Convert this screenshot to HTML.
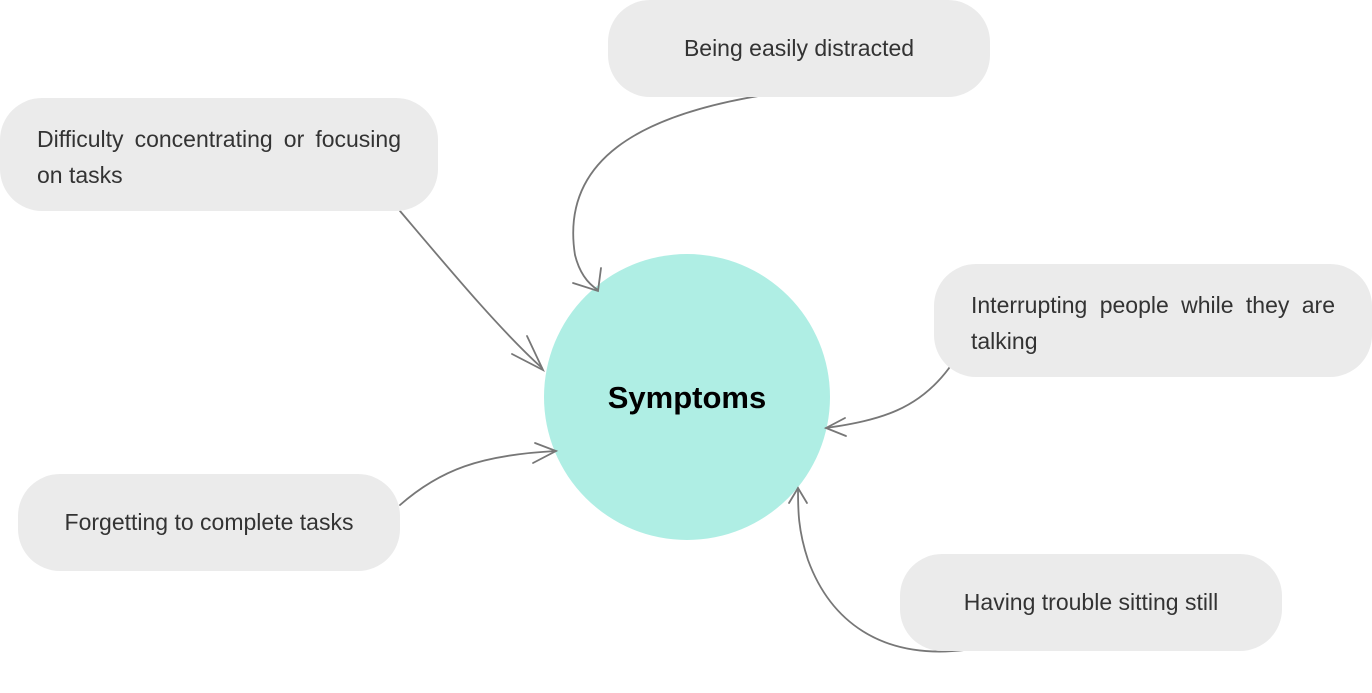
<!DOCTYPE html>
<html><head><meta charset="utf-8"><style>
body{margin:0;width:1372px;height:693px;background:#fff;position:relative;overflow:hidden;font-family:"Liberation Sans",sans-serif;}
.b{position:absolute;background:#ebebeb;border-radius:42px;color:#333;font-size:23px;box-sizing:border-box;}
.c{display:flex;align-items:center;justify-content:center;}
.j{text-align:justify;text-align-last:left;line-height:36px;padding:23px 37px 0 37px;}
svg{position:absolute;left:0;top:0;}
</style></head><body>
<svg width="1372" height="693">
<circle cx="687" cy="397" r="143" fill="#afeee4"/>
<g fill="none" stroke="#777" stroke-width="1.8" stroke-linecap="round">
<path d="M764 95 C640 115 560 160 575 255 C580 275 590 285 598 290"/>
<path d="M573 283 L598 291 L601 268"/>
<path d="M400 211 C450 270 500 330 542 368"/>
<path d="M527 336 L543 370 L512 354"/>
<path d="M952 364 C920 410 880 420 826 428"/>
<path d="M845 418 L826 428 L846 436"/>
<path d="M400 505 C440 470 480 455 556 451"/>
<path d="M535 443 L556 451 L533 463"/>
<path d="M965 650 C880 660 830 620 808 560 C798 530 798 510 798 488"/>
<path d="M789 503 L798 488 L807 503"/>
</g>
<text x="687" y="408" text-anchor="middle" font-family="Liberation Sans, sans-serif" font-weight="bold" font-size="31" fill="#000">Symptoms</text>
</svg>
<div class="b c" style="left:608px;top:0;width:382px;height:97px;">Being easily distracted</div>
<div class="b j" style="left:0;top:98px;width:438px;height:113px;">Difficulty concentrating or focusing on tasks</div>
<div class="b j" style="left:934px;top:264px;width:438px;height:113px;">Interrupting people while they are talking</div>
<div class="b c" style="left:18px;top:474px;width:382px;height:97px;">Forgetting to complete tasks</div>
<div class="b c" style="left:900px;top:554px;width:382px;height:97px;">Having trouble sitting still</div>
</body></html>
